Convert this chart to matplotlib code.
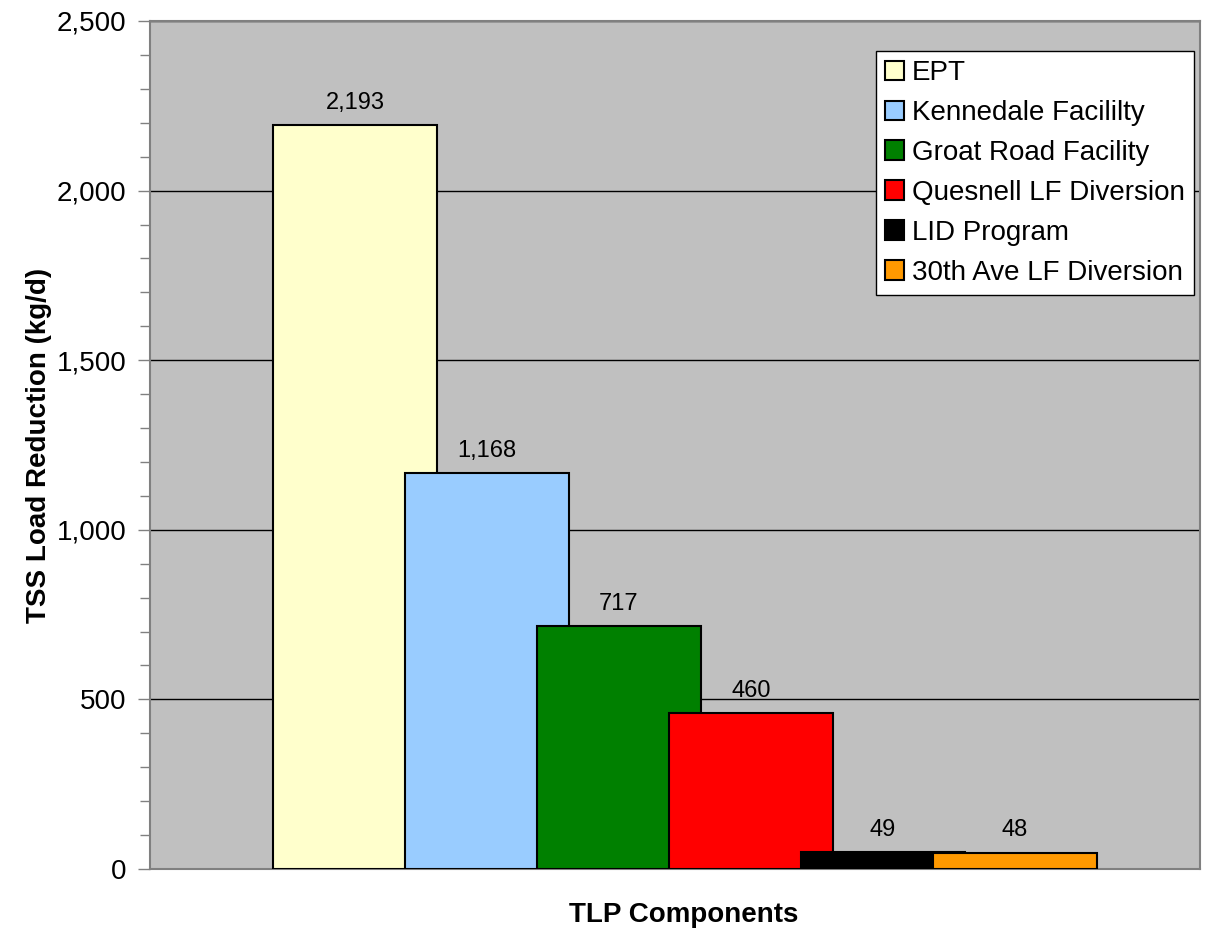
import matplotlib
matplotlib.use("Agg")
import matplotlib.pyplot as plt
from matplotlib.ticker import MultipleLocator, FuncFormatter
from matplotlib.patches import Patch

categories = ["EPT", "Kennedale Facililty", "Groat Road Facility",
              "Quesnell LF Diversion", "LID Program", "30th Ave LF Diversion"]
values = [2193, 1168, 717, 460, 49, 48]
colors = ["#FFFFCC", "#99CCFF", "#008000", "#FF0000", "#000000", "#FF9900"]

plt.rcParams['font.family'] = ['Liberation Sans', 'DejaVu Sans']

fig = plt.figure(figsize=(12.09, 9.34), dpi=100)
ax = fig.add_axes([150/1209, 65/934, 1050/1209, 848/934])
ax.set_facecolor("#C0C0C0")

width = 164/132
for i, (v, c) in enumerate(zip(values, colors)):
    ax.bar(i, v, width=width, color=c, edgecolor="black", linewidth=1.5, zorder=3)
    ax.text(i, v + 48, f"{v:,}", ha="center", va="baseline", fontsize=17, zorder=4)

ax.set_xlim(-205/132, 845/132)
ax.set_ylim(0, 2500)
ax.yaxis.set_major_locator(MultipleLocator(500))
ax.yaxis.set_minor_locator(MultipleLocator(100))
ax.yaxis.set_major_formatter(FuncFormatter(lambda v, p: f"{int(v):,}"))
ax.set_xticks([])
ax.tick_params(axis='y', which='major', length=9, width=1, color="#808080",
               labelsize=20, pad=8)
ax.tick_params(axis='y', which='minor', length=7, width=1, color="#808080")
ax.grid(axis='y', which='major', color="black", linewidth=1, zorder=1)
ax.set_axisbelow(True)
for s in ax.spines.values():
    s.set_color("#808080")
    s.set_linewidth(1.5)

ax.set_ylabel("TSS Load Reduction (kg/d)", fontsize=20, fontweight="bold", labelpad=3)
ax.set_xlabel("TLP Components", fontsize=20, fontweight="bold")
ax.xaxis.set_label_coords((684 - 150) / 1050, -(915 - 869) / 848)
ax.xaxis.label.set_va("center")

handles = [Patch(facecolor=c, edgecolor="black", linewidth=1.5) for c in colors]
leg = ax.legend(handles, categories, loc="upper right",
                bbox_to_anchor=((1194 - 150) / 1050, (869 - 51) / 848),
                fontsize=20, frameon=True, fancybox=False, framealpha=1,
                edgecolor="black", handlelength=0.7, handleheight=0.7,
                handletextpad=0.28, borderpad=0.33, labelspacing=0.5, borderaxespad=0)
leg.get_frame().set_linewidth(1)
leg.set_zorder(5)

fig.savefig("out.png", dpi=100, facecolor="white")
